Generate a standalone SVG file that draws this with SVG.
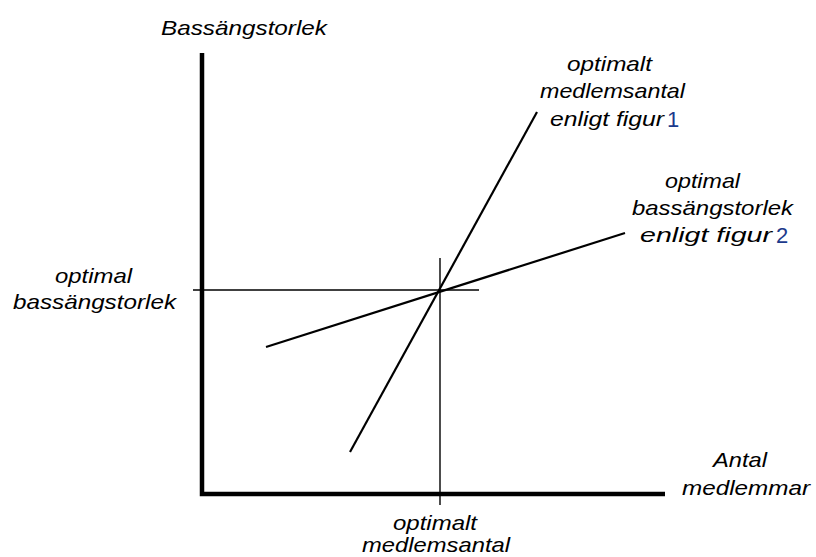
<svg xmlns="http://www.w3.org/2000/svg" width="816" height="557" viewBox="0 0 816 557">
<style>
.t{font-family:"Liberation Sans",Arial,sans-serif;font-style:italic;font-size:21px;fill:#000}
.n{font-family:"Liberation Sans",Arial,sans-serif;font-style:normal;font-size:22px;fill:#1c3a8c}
.axis{stroke:#000;stroke-width:4.5;fill:none}
.thin{stroke:#000;stroke-width:1.4;fill:none}
.curve{stroke:#000;stroke-width:2.2;fill:none}
</style>
<rect width="816" height="557" fill="#fff"/>
<g id="connectors">
<polyline class="axis" points="202,53 202,494 665,494"/>
<line class="thin" x1="440" y1="258" x2="440" y2="505"/>
<line class="thin" x1="193" y1="290" x2="479" y2="290"/>
<line class="curve" x1="350" y1="452" x2="537" y2="112"/>
<line class="curve" x1="266" y1="347" x2="625" y2="233"/>
</g>
<g id="y-axis-label"><text class="t" x="161" y="35" textLength="166" lengthAdjust="spacingAndGlyphs">Bassängstorlek</text></g>
<g id="line1-label">
<text class="t" x="567" y="71" textLength="85" lengthAdjust="spacingAndGlyphs">optimalt</text>
<text class="t" x="540" y="98" textLength="145" lengthAdjust="spacingAndGlyphs">medlemsantal</text>
<text class="t" x="550" y="126" textLength="114" lengthAdjust="spacingAndGlyphs">enligt figur</text>
<text class="n" x="667" y="127">1</text>
</g>
<g id="line2-label">
<text class="t" x="665" y="188" textLength="75" lengthAdjust="spacingAndGlyphs">optimal</text>
<text class="t" x="632" y="215" textLength="161" lengthAdjust="spacingAndGlyphs">bassängstorlek</text>
<text class="t" x="640" y="242" textLength="132" lengthAdjust="spacingAndGlyphs">enligt figur</text>
<text class="n" x="776" y="243">2</text>
</g>
<g id="y-optimum-label">
<text class="t" x="55" y="283" textLength="77" lengthAdjust="spacingAndGlyphs">optimal</text>
<text class="t" x="13" y="309" textLength="163" lengthAdjust="spacingAndGlyphs">bassängstorlek</text>
</g>
<g id="x-optimum-label">
<text class="t" x="393" y="530" textLength="84" lengthAdjust="spacingAndGlyphs">optimalt</text>
<text class="t" x="362" y="552" textLength="148" lengthAdjust="spacingAndGlyphs">medlemsantal</text>
</g>
<g id="x-axis-label">
<text class="t" x="713" y="467" textLength="54" lengthAdjust="spacingAndGlyphs">Antal</text>
<text class="t" x="682" y="495" textLength="128" lengthAdjust="spacingAndGlyphs">medlemmar</text>
</g>
</svg>
